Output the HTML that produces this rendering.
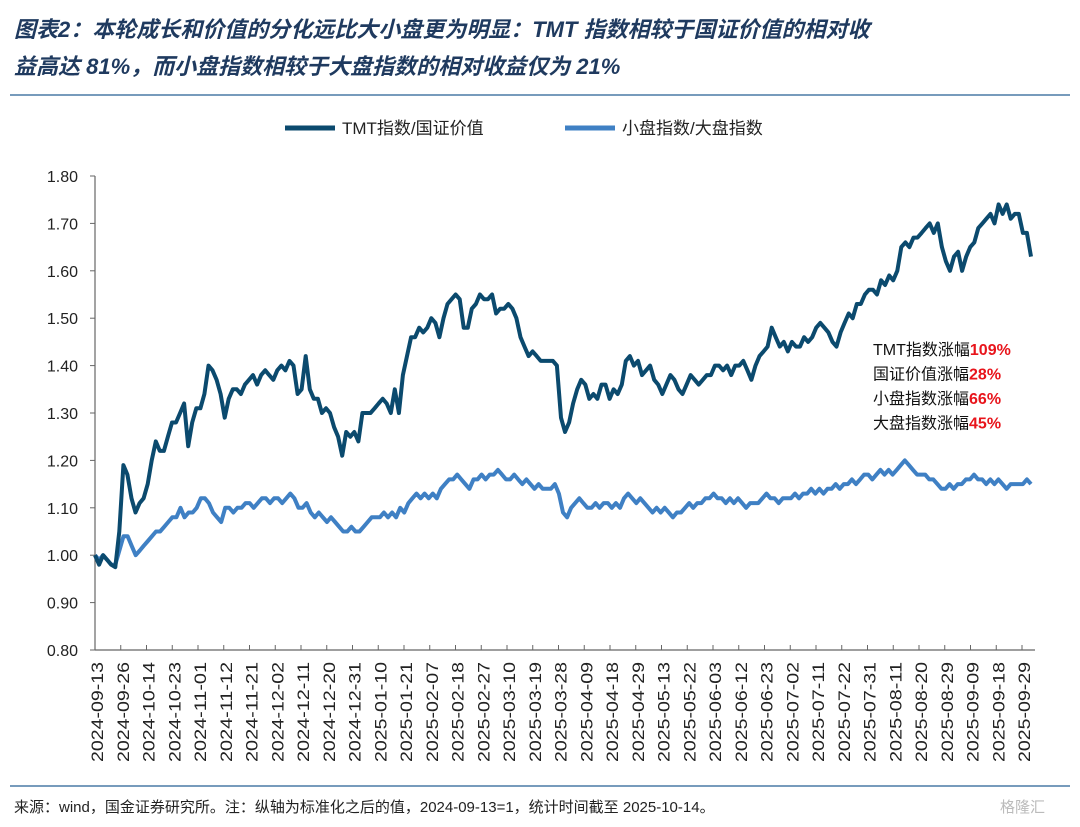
<!DOCTYPE html>
<html><head><meta charset="utf-8"><style>
body{margin:0;background:#fff;width:1080px;height:827px;overflow:hidden;font-family:"Liberation Sans","Noto Sans CJK SC",sans-serif}
.t{position:absolute;left:14px;font-weight:bold;font-style:italic;color:#1f3a5f;font-size:22px;font-family:"Liberation Sans","Noto Sans CJK SC",sans-serif}
</style></head><body>
<div class="t" style="top:12px">图表2：本轮成长和价值的分化远比大小盘更为明显：TMT 指数相较于国证价值的相对收</div>
<div class="t" style="top:49px">益高达 81%，而小盘指数相较于大盘指数的相对收益仅为 21%</div>
<svg id="c" width="1080" height="827" style="position:absolute;left:0;top:0"></svg>
<script>
const yTicks=[0.8,0.9,1.0,1.1,1.2,1.3,1.4,1.5,1.6,1.7,1.8];
const dateLabels=["2024-09-13","2024-09-26","2024-10-14","2024-10-23","2024-11-01","2024-11-12","2024-11-21","2024-12-02","2024-12-11","2024-12-20","2024-12-31","2025-01-10","2025-01-21","2025-02-07","2025-02-18","2025-02-27","2025-03-10","2025-03-19","2025-03-28","2025-04-09","2025-04-18","2025-04-29","2025-05-13","2025-05-22","2025-06-03","2025-06-12","2025-06-23","2025-07-02","2025-07-11","2025-07-22","2025-07-31","2025-08-11","2025-08-20","2025-08-29","2025-09-09","2025-09-18","2025-09-29"];
const tmtValues=[1.00,0.98,1.00,0.99,0.98,0.975,1.05,1.19,1.17,1.12,1.09,1.11,1.12,1.15,1.20,1.24,1.22,1.22,1.25,1.28,1.28,1.30,1.32,1.23,1.28,1.31,1.31,1.34,1.40,1.39,1.37,1.34,1.29,1.33,1.35,1.35,1.34,1.36,1.37,1.38,1.36,1.38,1.39,1.38,1.37,1.39,1.40,1.39,1.41,1.40,1.34,1.35,1.42,1.35,1.33,1.33,1.30,1.31,1.30,1.27,1.25,1.21,1.26,1.25,1.26,1.24,1.30,1.30,1.30,1.31,1.32,1.33,1.32,1.30,1.35,1.30,1.38,1.42,1.46,1.46,1.48,1.47,1.48,1.50,1.49,1.46,1.50,1.53,1.54,1.55,1.54,1.48,1.48,1.52,1.53,1.55,1.54,1.54,1.55,1.51,1.52,1.52,1.53,1.52,1.50,1.46,1.44,1.42,1.43,1.42,1.41,1.41,1.41,1.41,1.40,1.29,1.26,1.28,1.32,1.35,1.37,1.36,1.33,1.34,1.33,1.36,1.36,1.33,1.35,1.34,1.36,1.41,1.42,1.40,1.41,1.38,1.39,1.40,1.37,1.36,1.34,1.36,1.38,1.37,1.35,1.34,1.36,1.38,1.37,1.36,1.37,1.38,1.38,1.40,1.40,1.39,1.40,1.38,1.40,1.40,1.41,1.39,1.37,1.40,1.42,1.43,1.44,1.48,1.46,1.44,1.45,1.43,1.45,1.44,1.44,1.46,1.45,1.46,1.48,1.49,1.48,1.47,1.45,1.44,1.47,1.49,1.51,1.50,1.53,1.53,1.55,1.56,1.56,1.55,1.58,1.57,1.59,1.58,1.60,1.65,1.66,1.65,1.67,1.67,1.68,1.69,1.70,1.68,1.70,1.65,1.62,1.60,1.63,1.64,1.60,1.63,1.65,1.66,1.69,1.70,1.71,1.72,1.70,1.74,1.72,1.74,1.71,1.72,1.72,1.68,1.68,1.63];
const smallValues=[1.00,0.99,1.00,0.99,0.98,0.98,1.01,1.04,1.04,1.02,1.00,1.01,1.02,1.03,1.04,1.05,1.05,1.06,1.07,1.08,1.08,1.10,1.08,1.09,1.09,1.10,1.12,1.12,1.11,1.09,1.08,1.07,1.10,1.10,1.09,1.10,1.10,1.11,1.11,1.10,1.11,1.12,1.12,1.11,1.12,1.12,1.11,1.12,1.13,1.12,1.10,1.10,1.11,1.09,1.08,1.09,1.08,1.07,1.08,1.07,1.06,1.05,1.05,1.06,1.05,1.05,1.06,1.07,1.08,1.08,1.08,1.09,1.08,1.09,1.08,1.10,1.09,1.11,1.12,1.13,1.12,1.13,1.12,1.13,1.12,1.14,1.15,1.16,1.16,1.17,1.16,1.15,1.14,1.16,1.16,1.17,1.16,1.17,1.17,1.18,1.17,1.16,1.16,1.17,1.16,1.15,1.16,1.15,1.14,1.15,1.14,1.14,1.14,1.15,1.13,1.09,1.08,1.10,1.11,1.12,1.11,1.10,1.10,1.11,1.10,1.11,1.11,1.10,1.11,1.10,1.12,1.13,1.12,1.11,1.12,1.11,1.10,1.09,1.10,1.09,1.10,1.09,1.08,1.09,1.09,1.10,1.11,1.10,1.11,1.11,1.12,1.12,1.13,1.12,1.12,1.11,1.12,1.11,1.12,1.11,1.10,1.11,1.11,1.11,1.12,1.13,1.12,1.12,1.11,1.12,1.12,1.12,1.13,1.12,1.13,1.13,1.14,1.13,1.14,1.13,1.14,1.14,1.15,1.14,1.15,1.15,1.16,1.15,1.16,1.17,1.17,1.16,1.17,1.18,1.17,1.18,1.17,1.18,1.19,1.20,1.19,1.18,1.17,1.17,1.17,1.16,1.16,1.15,1.14,1.14,1.15,1.14,1.15,1.15,1.16,1.16,1.17,1.16,1.16,1.15,1.16,1.15,1.16,1.15,1.14,1.15,1.15,1.15,1.15,1.16,1.15];
const NS="http://www.w3.org/2000/svg";
const svg=document.getElementById('c');
const X0=95,X1=1031,Y0=650,Y1=176,VMIN=0.8,VMAX=1.8;
function yS(v){return Y0-(v-VMIN)/(VMAX-VMIN)*(Y0-Y1);}
function xS(i,n){return X0+i*(X1-X0)/(n-1);}
function mk(tag,attrs,parent){const e=document.createElementNS(NS,tag);for(const k in attrs)e.setAttribute(k,attrs[k]);(parent||svg).appendChild(e);return e;}
let e;
e=mk('line',{x1:10,y1:95,x2:1070,y2:95,stroke:'#4a7aa6','stroke-width':1.5});


e=mk('line',{x1:10,y1:786,x2:1070,y2:786,stroke:'#4a7aa6','stroke-width':1.5});


e=mk('line',{x1:285,y1:128,x2:335,y2:128,stroke:'#0b4a6e','stroke-width':5});


e=mk('text',{x:342,y:134,'font-size':17,fill:'#222'});e.textContent='TMT指数/国证价值';


e=mk('line',{x1:565,y1:128,x2:615,y2:128,stroke:'#3f80c4','stroke-width':5});


e=mk('text',{x:622,y:134,'font-size':17,fill:'#222'});e.textContent='小盘指数/大盘指数';


e=mk('line',{x1:X0,y1:Y1,x2:X0,y2:Y0,stroke:'#666','stroke-width':1.2});


e=mk('line',{x1:X0,y1:Y0,x2:1035,y2:Y0,stroke:'#666','stroke-width':1.2});


yTicks.forEach(v=>{
  const t=mk('line',{x1:X0-5,y1:yS(v),x2:X0,y2:yS(v),stroke:'#666'});
  
  
  const l=mk('text',{x:78,y:yS(v)+6,'font-size':16,'text-anchor':'end',fill:'#222'});
  l.textContent=v.toFixed(2);
  
  
});
const nL=dateLabels.length, step=25.75;
for(let i=0;i<=nL;i++){
  const x=X0+i*step; if(x>1035)break;
  const t=mk('line',{x1:x,y1:Y0,x2:x,y2:Y0-5,stroke:'#666'});
  
  
}
dateLabels.forEach((d,i)=>{
  const x=97+i*step;
  const l=mk('text',{transform:`translate(${x+6},662) rotate(-90)`,'font-size':17,'text-anchor':'end',fill:'#222',textLength:100,lengthAdjust:'spacingAndGlyphs'});
  l.textContent=d;
  
  
});
function line(vals,color,name){
  const p=vals.map((v,i)=>(i?'L':'M')+xS(i,vals.length).toFixed(1)+','+yS(v).toFixed(1)).join('');
  const el=mk('path',{d:p,fill:'none',stroke:color,'stroke-width':4,'stroke-linejoin':'round'});
  
  
}
line(smallValues,'#3f80c4','series-small-vs-large');
line(tmtValues,'#0b4a6e','series-tmt-vs-value');
const ann=[['TMT指数涨幅','109%'],['国证价值涨幅','28%'],['小盘指数涨幅','66%'],['大盘指数涨幅','45%']];
ann.forEach((a,i)=>{
  const t=mk('text',{x:873,y:355+i*24.5,'font-size':16,fill:'#111'});
  const s1=mk('tspan',{},t);s1.textContent=a[0];
  const s2=mk('tspan',{fill:'#e8141b','font-weight':'bold'},t);s2.textContent=a[1];
  
  
});
e=mk('text',{x:14,y:812,'font-size':15,fill:'#222'});
e.textContent='来源：wind，国金证券研究所。注：纵轴为标准化之后的值，2024-09-13=1，统计时间截至 2025-10-14。';


e=mk('text',{x:1000,y:812,'font-size':15,fill:'#bbb'});
e.textContent='格隆汇';


</script>
</body></html>
